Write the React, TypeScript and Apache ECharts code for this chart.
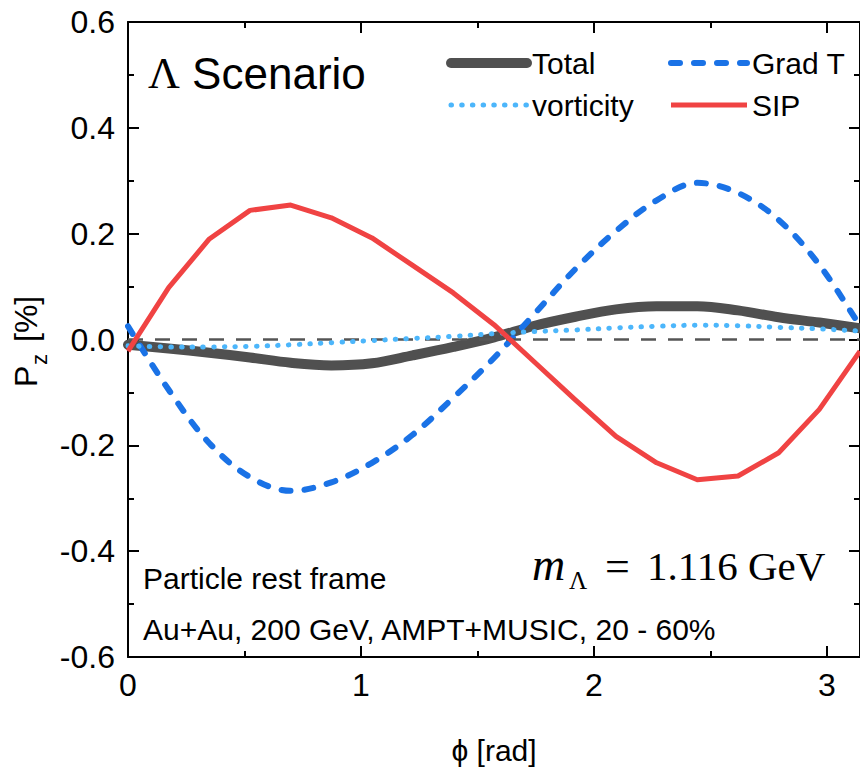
import { useEffect, useRef } from "react";
import * as echarts from "echarts";

// Azimuthal angle samples (degrees), converted to radians for the x axis
const phiDeg = [0, 10, 20, 30, 40, 50, 60, 70, 80, 90, 100, 110, 120, 130, 140, 150, 160, 170, 180];

// Longitudinal polarization P_z [%] contributions
const totalPz = [-0.010, -0.017, -0.025, -0.034, -0.044, -0.049, -0.045, -0.030, -0.014, 0.004, 0.026, 0.043, 0.057, 0.063, 0.063, 0.055, 0.042, 0.032, 0.021];
const gradTPz = [0.025, -0.095, -0.196, -0.260, -0.286, -0.270, -0.233, -0.180, -0.110, -0.035, 0.049, 0.133, 0.205, 0.263, 0.296, 0.277, 0.226, 0.141, 0.025];
const vorticityPz = [-0.012, -0.014, -0.014, -0.013, -0.010, -0.006, -0.002, 0.002, 0.006, 0.011, 0.015, 0.018, 0.022, 0.025, 0.027, 0.026, 0.023, 0.020, 0.016];
const sipPz = [-0.022, 0.098, 0.190, 0.244, 0.254, 0.230, 0.192, 0.140, 0.088, 0.028, -0.043, -0.114, -0.183, -0.233, -0.265, -0.258, -0.214, -0.132, -0.022];

const SERIES_NAMES = ["Total", "Grad T", "vorticity", "SIP"];

const SANS = '"Liberation Sans", Arial, Helvetica, sans-serif';
const SERIF = '"Liberation Serif", "Times New Roman", serif';

const toPoints = (vals: number[]) => phiDeg.map((d, i) => [(d * Math.PI) / 180, vals[i]]);

const axisLine = { show: true, onZero: false, lineStyle: { color: "#000", width: 2 } };
const axisTick = { show: true, inside: true, length: 11, lineStyle: { color: "#000", width: 2 } };
const minorTick = { show: true, splitNumber: 2, length: 6, lineStyle: { color: "#000", width: 2 } };

export default function App() {
  const ref = useRef<HTMLDivElement>(null);

  useEffect(() => {
    if (!ref.current) return;
    const chart = echarts.init(ref.current, null, { renderer: "svg" });

    const xBase = {
      type: "value" as const,
      min: 0,
      max: Math.PI,
      interval: 1,
      axisLine,
      axisTick,
      minorTick,
      splitLine: { show: false },
      minorSplitLine: { show: false },
    };
    const yBase = {
      type: "value" as const,
      min: -0.6,
      max: 0.6,
      interval: 0.2,
      axisLine,
      axisTick,
      minorTick,
      splitLine: { show: false },
      minorSplitLine: { show: false },
    };

    const legendText = { fontSize: 30, fontFamily: SANS, color: "#000", lineHeight: 30 };
    const legendCommon = {
      top: 48,
      orient: "vertical",
      padding: 0,
      itemGap: 12,
      itemWidth: 76,
      itemHeight: 12,
      selectedMode: false,
      textStyle: legendText,
      lineStyle: { width: "inherit" },
      // line sample only, no marker in the middle
      itemStyle: { opacity: 0, borderWidth: 0 },
    };

    chart.setOption({
      animation: false,
      backgroundColor: "#fff",
      grid: { left: 128, top: 22, right: -4, bottom: 112, containLabel: false },
      xAxis: [
        {
          ...xBase,
          position: "bottom",
          name: "\u03d5 [rad]",
          nameLocation: "middle",
          nameGap: 78,
          nameTextStyle: { fontSize: 30, fontFamily: SANS, color: "#000" },
          axisLabel: {
            show: true,
            margin: 12,
            fontSize: 32,
            fontFamily: SANS,
            color: "#000",
            showMaxLabel: false,
            formatter: (v: number) => String(v),
          },
        },
        { ...xBase, position: "top", axisLabel: { show: false } },
      ],
      yAxis: [
        {
          ...yBase,
          position: "left",
          axisLabel: {
            show: true,
            margin: 13,
            fontSize: 32,
            fontFamily: SANS,
            color: "#000",
            formatter: (v: number) => v.toFixed(1),
          },
        },
        { ...yBase, position: "right", axisLabel: { show: false } },
      ],
      legend: [
        { ...legendCommon, left: 446, data: [SERIES_NAMES[0], SERIES_NAMES[2]] },
        { ...legendCommon, left: 668, data: [SERIES_NAMES[1], SERIES_NAMES[3]] },
      ],
      series: [
        {
          name: SERIES_NAMES[0],
          type: "line",
          data: toPoints(totalPz),
          symbol: "none",
          showSymbol: false,
          smooth: 0.35,
          z: 3,
          itemStyle: { color: "#505050" },
          lineStyle: { color: "#505050", width: 10, cap: "round", join: "round" },
          markLine: {
            silent: true,
            symbol: ["none", "none"],
            label: { show: false },
            lineStyle: { color: "#555", width: 2.5, type: [15, 12] },
            data: [{ yAxis: 0 }],
          },
        },
        {
          name: SERIES_NAMES[1],
          type: "line",
          data: toPoints(gradTPz),
          symbol: "none",
          showSymbol: false,
          smooth: 0.35,
          z: 4,
          itemStyle: { color: "#1a72e6" },
          lineStyle: { color: "#1a72e6", width: 6, type: [9, 14], cap: "round", join: "round" },
        },
        {
          name: SERIES_NAMES[2],
          type: "line",
          data: toPoints(vorticityPz),
          symbol: "none",
          showSymbol: false,
          smooth: 0.35,
          z: 5,
          itemStyle: { color: "#4cb6fb" },
          lineStyle: { color: "#4cb6fb", width: 5, type: [0.5, 10.2], cap: "round", join: "round" },
        },
        {
          name: SERIES_NAMES[3],
          type: "line",
          data: toPoints(sipPz),
          symbol: "none",
          showSymbol: false,
          smooth: false,
          z: 6,
          itemStyle: { color: "#f04343" },
          lineStyle: { color: "#f04343", width: 5, join: "round" },
        },
      ],
      graphic: [
        {
          type: "text",
          x: 148,
          y: 73,
          style: {
            text: "{g|\u039b}{s| Scenario}",
            align: "left",
            verticalAlign: "middle",
            fill: "#000",
            rich: {
              g: { fontFamily: SERIF, fontSize: 44, fill: "#000" },
              s: { fontFamily: SANS, fontSize: 44, fill: "#000" },
            },
          },
        },
        {
          type: "text",
          x: 143,
          y: 578,
          style: {
            text: "Particle rest frame",
            fontFamily: SANS,
            fontSize: 30,
            fill: "#000",
            align: "left",
            verticalAlign: "middle",
          },
        },
        {
          type: "text",
          x: 143,
          y: 629,
          style: {
            text: "Au+Au, 200 GeV, AMPT+MUSIC, 20 - 60%",
            fontFamily: SANS,
            fontSize: 30,
            fill: "#000",
            align: "left",
            verticalAlign: "middle",
          },
        },
        // mass label: m_Λ = 1.116 GeV
        {
          type: "text",
          x: 532,
          y: 564.5,
          style: {
            text: "m",
            fontFamily: SERIF,
            fontStyle: "italic",
            fontSize: 46,
            fill: "#000",
            align: "left",
            verticalAlign: "middle",
          },
        },
        {
          type: "text",
          x: 569,
          y: 580,
          style: {
            text: "\u039b",
            fontFamily: SERIF,
            fontSize: 25,
            fill: "#000",
            align: "left",
            verticalAlign: "middle",
          },
        },
        {
          type: "text",
          x: 605,
          y: 566,
          style: {
            text: "=",
            fontFamily: SERIF,
            fontSize: 44,
            fill: "#000",
            align: "left",
            verticalAlign: "middle",
          },
        },
        {
          type: "text",
          x: 647,
          y: 566,
          style: {
            text: "1.116 GeV",
            fontFamily: SERIF,
            fontSize: 41,
            fill: "#000",
            align: "left",
            verticalAlign: "middle",
          },
        },
        // y-axis title: P_z [%], reading bottom to top
        {
          type: "group",
          x: 0,
          y: 387,
          rotation: Math.PI / 2,
          children: [
            {
              type: "text",
              x: 0,
              y: 26,
              style: { text: "P", fontFamily: SANS, fontSize: 32, fill: "#000", align: "left", verticalAlign: "middle" },
            },
            {
              type: "text",
              x: 22,
              y: 39.5,
              style: { text: "z", fontFamily: SANS, fontSize: 22, fill: "#000", align: "left", verticalAlign: "middle" },
            },
            {
              type: "text",
              x: 45,
              y: 26,
              style: { text: "[%]", fontFamily: SANS, fontSize: 32, fill: "#000", align: "left", verticalAlign: "middle" },
            },
          ],
        },
      ],
    });

    return () => chart.dispose();
  }, []);

  return (
    <div
      ref={ref}
      style={{ position: "fixed", left: 0, top: 0, width: 860, height: 770, background: "#fff" }}
    />
  );
}
